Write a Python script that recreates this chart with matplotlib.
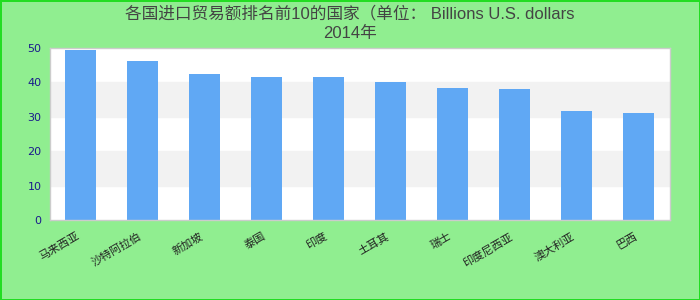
import matplotlib
matplotlib.use("Agg")
import matplotlib.pyplot as plt

plt.rcParams['font.family'] = ['Liberation Sans', 'Noto Sans CJK SC', 'DejaVu Sans']

title_top = "各国进口贸易额排名前10的国家（单位： Billions U.S. dollars"
title_sub = "2014年"
countries = ["马来西亚", "沙特阿拉伯", "新加坡", "泰国", "印度",
             "土耳其", "瑞士", "印度尼西亚", "澳大利亚", "巴西"]
values = [49.5, 46.1, 42.3, 41.5, 41.5, 40.0, 38.5, 38.2, 31.8, 31.2]
yticks = [0, 10, 20, 30, 40, 50]

fig = plt.figure(figsize=(7, 3), dpi=100, facecolor="#90ee90",
                 edgecolor="#22dd22", linewidth=2)
ax = fig.add_axes([0.0714, 0.2667, 0.8857, 0.5733])
ax.set_facecolor("white")

# alternating light bands
for i in range(len(yticks) - 1):
    if i % 2 == 1:
        ax.axhspan(yticks[i], yticks[i + 1], color="#f2f2f2", zorder=0)

x = range(len(countries))
ax.bar(x, values, width=0.5, color="#60a8f4", zorder=2)

ax.set_xlim(-0.5, len(countries) - 0.5)
ax.set_ylim(0, 50)
ax.set_yticks(yticks)
ax.set_yticklabels([str(t) for t in yticks], fontsize=8, color="#1a1a8c",
                   family=['DejaVu Sans'])
ax.set_xticks(list(x))
ax.set_xticklabels(countries, rotation=30, ha="right", fontsize=8,
                   color="#222222", family=['Noto Sans CJK SC', 'DejaVu Sans'])
ax.tick_params(axis="both", length=0, pad=6)
ax.tick_params(axis="x", pad=8)

for s in ax.spines.values():
    s.set_color("#cccccc")
    s.set_linewidth(1)

fig.text(0.5, 0.955, title_top, ha="center", va="center", fontsize=12,
         color="#444444")
fig.text(0.5, 0.89, title_sub, ha="center", va="center", fontsize=12,
         color="#444444")

fig.savefig("out.png", dpi=100, facecolor=fig.get_facecolor(),
            edgecolor=fig.get_edgecolor())
